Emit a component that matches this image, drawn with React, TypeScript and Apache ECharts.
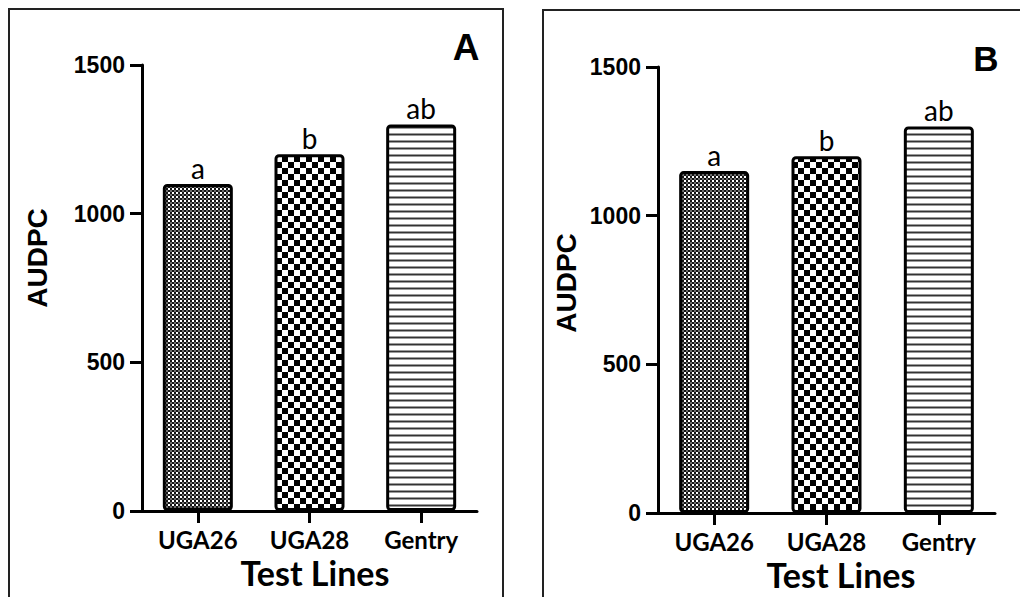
import React, { useEffect, useRef } from 'react';
import * as echarts from 'echarts';

const categories = ['UGA26', 'UGA28', 'Gentry'];
const valuesA = [1100, 1200, 1300];
const valuesB = [1150, 1200, 1300];
const lettersA = ['a', 'b', 'ab'];
const lettersB = ['a', 'b', 'ab'];
const panelLabels = ['A', 'B'];
const yAxisTitle = 'AUDPC';
const xAxisTitle = 'Test Lines';
const yMin = 0;
const yMax = 1500;
const yStep = 500;

function makeCanvas(w: number, h: number, draw: (ctx: CanvasRenderingContext2D) => void) {
  const c = document.createElement('canvas');
  c.width = w;
  c.height = h;
  const ctx = c.getContext('2d')!;
  draw(ctx);
  return c;
}

function buildPatterns() {
  const fine = makeCanvas(4, 4, (ctx) => {
    ctx.fillStyle = '#141414';
    ctx.fillRect(0, 0, 4, 4);
    ctx.fillStyle = '#ffffff';
    ctx.fillRect(0, 0, 2, 2);
    ctx.fillStyle = '#6e6e6e';
    ctx.fillRect(2, 2, 2, 2);
  });
  const coarse = makeCanvas(12, 12, (ctx) => {
    ctx.fillStyle = '#ffffff';
    ctx.fillRect(0, 0, 12, 12);
    ctx.fillStyle = '#000000';
    ctx.fillRect(6, 0, 6, 6);
    ctx.fillRect(0, 6, 6, 6);
  });
  const stripes = makeCanvas(4, 7, (ctx) => {
    ctx.fillStyle = '#ffffff';
    ctx.fillRect(0, 0, 4, 7);
    ctx.fillStyle = '#9a9a9a';
    ctx.fillRect(0, 0, 4, 1);
    ctx.fillRect(0, 2, 4, 1);
    ctx.fillStyle = '#333333';
    ctx.fillRect(0, 1, 4, 1);
  });
  return [fine, coarse, stripes].map((img) => ({ image: img, repeat: 'repeat' }));
}

export default function App() {
  const ref = useRef<HTMLDivElement>(null);

  useEffect(() => {
    if (!ref.current) return;
    const chart = echarts.init(ref.current, undefined, { renderer: 'svg' });
    const patterns = buildPatterns();

    const grids = [
      { left: 142, top: 65, width: 335, height: 446 },
      { left: 658, top: 67, width: 337, height: 446 },
    ];

    const xAxisBase = (gridIndex: number) => ({
      type: 'category',
      gridIndex,
      data: categories,
      axisLine: { show: true, lineStyle: { color: '#000', width: 3 } },
      axisTick: { show: true, alignWithLabel: true, length: 12, lineStyle: { color: '#000', width: 3 } },
      axisLabel: { fontFamily: 'Lato', fontWeight: 'bold', fontSize: 24, color: '#000', margin: 16 },
      splitLine: { show: false },
    });
    const yAxisBase = (gridIndex: number) => ({
      type: 'value',
      gridIndex,
      min: yMin,
      max: yMax,
      interval: yStep,
      axisLine: { show: true, lineStyle: { color: '#000', width: 3 } },
      axisTick: { show: true, length: 12, lineStyle: { color: '#000', width: 3 } },
      axisLabel: {
        fontFamily: 'Liberation Sans',
        fontWeight: 'bold',
        fontSize: 23,
        color: '#000',
        margin: 17,
        formatter: (v: number) => String(v),
      },
      splitLine: { show: false },
    });

    const mkSeries = (idx: number, values: number[], letters: string[]) => ({
      type: 'bar',
      xAxisIndex: idx,
      yAxisIndex: idx,
      barWidth: 70,
      data: values.map((v, i) => ({
        value: v,
        itemStyle: { color: patterns[i] },
      })),
      itemStyle: { borderColor: '#000', borderWidth: 3, borderRadius: 3 },
      label: {
        show: true,
        position: 'top',
        distance: 2,
        formatter: (p: any) => letters[p.dataIndex],
        fontFamily: 'Lato',
        fontSize: 28,
        color: '#000',
      },
    });

    const textStyle = (text: string, font: string) => ({ text, font, fill: '#000', textAlign: 'center', textVerticalAlign: 'middle' });

    chart.setOption({
      animation: false,
      backgroundColor: '#fff',
      grid: grids,
      xAxis: [xAxisBase(0), xAxisBase(1)],
      yAxis: [yAxisBase(0), yAxisBase(1)],
      series: [mkSeries(0, valuesA, lettersA), mkSeries(1, valuesB, lettersB)],
      graphic: [
        { type: 'rect', shape: { x: 9, y: 9, width: 494, height: 600 }, style: { fill: 'none', stroke: '#222', lineWidth: 2 } },
        { type: 'rect', shape: { x: 543, y: 10, width: 600, height: 600 }, style: { fill: 'none', stroke: '#222', lineWidth: 2 } },
        { type: 'text', x: 466, y: 47, style: textStyle(panelLabels[0], 'bold 37px "Liberation Sans"') },
        { type: 'text', x: 986, y: 58, style: textStyle(panelLabels[1], 'bold 35px "Liberation Sans"') },
        { type: 'text', x: 37, y: 258, rotation: Math.PI / 2, style: textStyle(yAxisTitle, 'bold 28px "Liberation Sans"') },
        { type: 'text', x: 566, y: 283, rotation: Math.PI / 2, style: textStyle(yAxisTitle, 'bold 28px "Liberation Sans"') },
        { type: 'text', x: 315, y: 572, style: textStyle(xAxisTitle, 'bold 34px Lato') },
        { type: 'text', x: 841, y: 574, style: textStyle(xAxisTitle, 'bold 34px Lato') },
      ],
    });

    return () => chart.dispose();
  }, []);

  return <div ref={ref} style={{ position: 'fixed', left: 0, top: 0, width: 1020, height: 597 }} />;
}
